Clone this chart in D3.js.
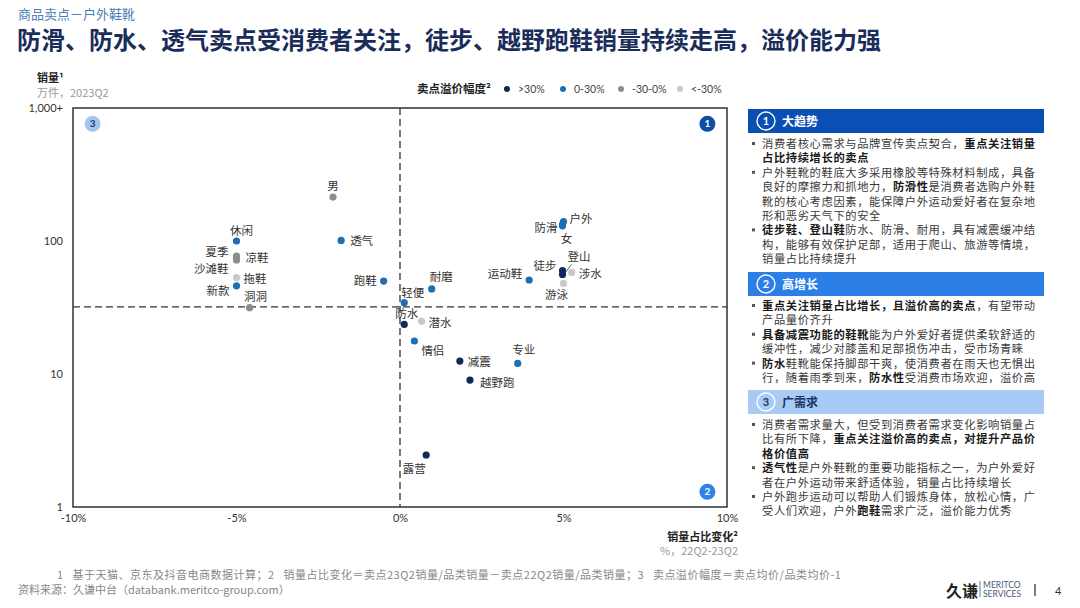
<!DOCTYPE html>
<html>
<head>
<meta charset="utf-8">
<script src="https://cdn.jsdelivr.net/npm/d3@7"></script>
<style>
  body { margin:0; background:#fff; }
  svg { font-family: "Noto Sans CJK SC", "Noto Sans", sans-serif; }
</style>
</head>
<body>
<div id="chart"></div>
<script>
// selling points of outdoor footwear
var names = ["男","休闲","夏季","凉鞋","沙滩鞋","拖鞋","新款","洞洞","透气","跑鞋","轻便","防水","耐磨","潜水","情侣","减震","越野跑","专业","运动鞋","露营","户外","防滑","女","徒步","登山","涉水","游泳"];
// share change 22Q2-23Q2, %
var shareChange = [-2.05,-5.0,-5.0,-5.0,-5.0,-5.0,-5.0,-4.6,-1.8,-0.5,0.13,0.13,0.97,0.66,0.44,1.83,2.14,3.6,3.95,0.8,5.0,4.97,4.97,4.97,4.97,5.25,5.0];
// sales volume, 10k units, 2023Q2
var sales = [214,100,77,74,72,53,46,31.5,101,50,34.4,23.6,43.6,24.9,17.7,12.5,9.0,12.0,50.9,2.46,140,133,130,60,56,58,48];
// premium group index into legend
var premium = [2,1,2,2,2,3,1,2,1,1,1,0,1,3,1,0,0,1,1,0,1,1,1,0,0,3,3];

var legendLabels = [">30%","0-30%","-30-0%","<-30%"];
var legendColors = ["#0c2a5c","#1f6db3","#8c8c8c","#c9c9c9"];

var xTicks = [-10,-5,0,5,10];
var xTickLabels = ["-10%","-5%","0%","5%","10%"];
var yTicks = [1,10,100,1000];
var yTickLabels = ["1","10","100","1,000+"];
var hLineValue = 32;

// label offsets (dx, dy, anchor) relative to the dot
var labelPos = {
  "男":[0,-11,"middle"], "休闲":[5,-10,"middle"], "夏季":[-8,-4,"end"], "凉鞋":[9,0,"start"],
  "沙滩鞋":[-8,9,"end"], "拖鞋":[7,1,"start"], "新款":[-7,5,"end"], "洞洞":[6,-11,"middle"],
  "透气":[9,1,"start"], "跑鞋":[-7,0,"end"], "轻便":[-3,-10,"start"], "防水":[-9,-10,"start"],
  "耐磨":[-2,-12,"start"], "潜水":[7,2,"start"], "情侣":[7,10,"start"], "减震":[8,1,"start"],
  "越野跑":[10,3,"start"], "专业":[6,-13,"middle"], "运动鞋":[-7,-6,"end"], "露营":[-12,14,"middle"],
  "户外":[6,-3,"start"], "防滑":[-5,3,"end"], "女":[4,13,"middle"], "徒步":[-6,-5,"end"],
  "登山":[5,-17,"start"], "涉水":[7,2,"start"], "游泳":[-7,12,"middle"]
};

var panel = [
  {num:"1", title:"大趋势", fill:"#0b4fb4", circleText:"#fff", titleColor:"#fff", top:109, lineTop:144,
   lines:[
    [true, [["消费者核心需求与品牌宣传卖点契合，",0],["重点关注销量",1]]],
    [false,[["占比持续增长的卖点",1]]],
    [true, [["户外鞋靴的鞋底大多采用橡胶等特殊材料制成，具备",0]]],
    [false,[["良好的摩擦力和抓地力，",0],["防滑性",1],["是消费者选购户外鞋",0]]],
    [false,[["靴的核心考虑因素，能保障户外运动爱好者在复杂地",0]]],
    [false,[["形和恶劣天气下的安全",0]]],
    [true, [["徒步鞋、登山鞋",1],["防水、防滑、耐用，具有减震缓冲结",0]]],
    [false,[["构，能够有效保护足部，适用于爬山、旅游等情境，",0]]],
    [false,[["销量占比持续提升",0]]]
   ]},
  {num:"2", title:"高增长", fill:"#2c7fe6", circleText:"#fff", titleColor:"#fff", top:272, lineTop:306,
   lines:[
    [true, [["重点关注销量占比增长，且溢价高的卖点",1],["，有望带动",0]]],
    [false,[["产品量价齐升",0]]],
    [true, [["具备减震功能的鞋靴",1],["能为户外爱好者提供柔软舒适的",0]]],
    [false,[["缓冲性，减少对膝盖和足部损伤冲击，受市场青睐",0]]],
    [true, [["防水",1],["鞋靴能保持脚部干爽，使消费者在雨天也无惧出",0]]],
    [false,[["行，随着雨季到来，",0],["防水性",1],["受消费市场欢迎，溢价高",0]]]
   ]},
  {num:"3", title:"广需求", fill:"#a7cbf4", circleText:"#1b3566", titleColor:"#1b3566", top:390, lineTop:425,
   lines:[
    [true, [["消费者需求量大，但受到消费者需求变化影响销量占",0]]],
    [false,[["比有所下降，",0],["重点关注溢价高的卖点，对提升产品价",1]]],
    [false,[["格价值高",1]]],
    [true, [["透气性",1],["是户外鞋靴的重要功能指标之一，为户外爱好",0]]],
    [false,[["者在户外运动带来舒适体验，销量占比持续增长",0]]],
    [true, [["户外跑步运动可以帮助人们锻炼身体，放松心情，广",0]]],
    [false,[["受人们欢迎，户外",0],["跑鞋",1],["需求广泛，溢价能力优秀",0]]]
   ]}
];

var W = 1080, H = 608;
var plot = {left:73, right:727, top:108, bottom:507};

var svg = d3.select("#chart").append("svg")
            .attr("width", W)
            .attr("height", H);

// header
svg.append("text").attr("x",18).attr("y",19).attr("font-size",13).attr("fill","#4d7db8")
   .text("商品卖点－户外鞋靴");
svg.append("text").attr("x",17).attr("y",49).attr("font-size",24).attr("font-weight",700)
   .attr("fill","#1a2d5a").text("防滑、防水、透气卖点受消费者关注，徒步、越野跑鞋销量持续走高，溢价能力强");

// scales
var x = d3.scaleLinear().domain([-10,10]).range([plot.left, plot.right]);
var y = d3.scaleLog().domain([1,1000]).range([plot.bottom, plot.top]);

// axis titles
svg.append("text").attr("x",37).attr("y",82).attr("font-size",11).attr("font-weight",700)
   .attr("fill","#222").text("销量¹");
svg.append("text").attr("x",37).attr("y",97).attr("font-size",11).attr("fill","#9a9a9a")
   .text("万件，2023Q2");
svg.append("text").attr("x",738).attr("y",541).attr("font-size",11).attr("font-weight",700)
   .attr("text-anchor","end").attr("fill","#222").text("销量占比变化²");
svg.append("text").attr("x",738).attr("y",555).attr("font-size",11).attr("fill","#9a9a9a")
   .attr("text-anchor","end").text("%，22Q2-23Q2");

// legend
svg.append("text").attr("x",417).attr("y",93).attr("font-size",11.5).attr("font-weight",700)
   .attr("fill","#222").text("卖点溢价幅度²");
var legX = [507,563,621,680];
var leg = svg.append("g").selectAll("g").data(legendLabels).enter().append("g")
   .attr("transform", function(d,i){ return "translate("+legX[i]+",89)"; });
leg.append("circle").attr("r",3).attr("fill",function(d,i){ return legendColors[i]; });
leg.append("text").attr("x",11).attr("y",4).attr("font-size",10.5)
   .attr("font-family","Lato, 'Liberation Sans', sans-serif").attr("fill","#444").text(function(d){ return d; });

// axes
var xAxis = svg.append("g").attr("transform","translate(0,"+(plot.bottom+4)+")")
   .call(d3.axisBottom(x).tickValues(xTicks).tickSize(0).tickFormat(function(d,i){ return xTickLabels[i]; }));
xAxis.select(".domain").remove();
xAxis.selectAll("text").attr("font-size",11).attr("font-family","Lato, 'Liberation Sans', sans-serif").attr("fill","#333");

var yAxis = svg.append("g").attr("transform","translate("+(plot.left-7)+",0)")
   .call(d3.axisLeft(y).tickValues(yTicks).tickSize(0).tickFormat(function(d,i){ return yTickLabels[i]; }));
yAxis.select(".domain").remove();
yAxis.selectAll("text").attr("font-size",11).attr("font-family","Lato, 'Liberation Sans', sans-serif").attr("fill","#333");

// frame
svg.append("rect").attr("x",plot.left).attr("y",plot.top)
   .attr("width",plot.right-plot.left).attr("height",plot.bottom-plot.top)
   .attr("fill","none").attr("stroke","#222").attr("stroke-width",1.4);

// quadrant dividers
svg.append("line").attr("x1",x(0)).attr("x2",x(0)).attr("y1",plot.top).attr("y2",plot.bottom)
   .attr("stroke","#333").attr("stroke-width",1.3).attr("stroke-dasharray","7,4");
svg.append("line").attr("x1",plot.left).attr("x2",plot.right).attr("y1",y(hLineValue)).attr("y2",y(hLineValue))
   .attr("stroke","#333").attr("stroke-width",1.3).attr("stroke-dasharray","7,4");

// quadrant badges
var badges = [["3",x(-9.4),y(760),"#a3c6f0","#1b3566"],["1",x(9.4),y(760),"#0d4ea6","#fff"],["2",x(9.4),y(1.3),"#2d83e6","#fff"]];
badges.forEach(function(b){
  svg.append("circle").attr("cx",b[1]).attr("cy",b[2]).attr("r",8).attr("fill",b[3]);
  svg.append("text").attr("x",b[1]).attr("y",b[2]+3.5).attr("text-anchor","middle").attr("font-size",10)
     .attr("font-weight",700).attr("font-family","Lato, sans-serif").attr("fill",b[4]).text(b[0]);
});

// points
var pts = names.map(function(n,i){ return {name:n, dx:shareChange[i], v:sales[i], g:premium[i]}; });

// leader line for 登山
var ds = pts.filter(function(p){ return p.name=="登山"; })[0];
svg.append("line").attr("x1",x(ds.dx)+2).attr("y1",y(ds.v)-1).attr("x2",x(ds.dx)+9).attr("y2",y(ds.v)-10)
   .attr("stroke","#333").attr("stroke-width",0.8);

svg.append("g").selectAll("circle").data(pts).enter().append("circle")
   .attr("cx",function(d){ return x(d.dx); })
   .attr("cy",function(d){ return y(d.v); })
   .attr("r",3.6)
   .attr("fill",function(d){ return legendColors[d.g]; });

svg.append("g").selectAll("text").data(pts).enter().append("text")
   .attr("x",function(d){ return x(d.dx)+labelPos[d.name][0]; })
   .attr("y",function(d){ return y(d.v)+labelPos[d.name][1]+4; })
   .attr("text-anchor",function(d){ return labelPos[d.name][2]; })
   .attr("font-size",11.5).attr("fill","#333")
   .text(function(d){ return d.name; });

// right side panel
var px = 748, pw = 296, lh = 14.4;
panel.forEach(function(s){
  svg.append("rect").attr("x",px).attr("y",s.top).attr("width",pw).attr("height",24).attr("fill",s.fill);
  svg.append("circle").attr("cx",px+18).attr("cy",s.top+12).attr("r",9)
     .attr("fill","none").attr("stroke","#fff").attr("stroke-width",1.4);
  svg.append("text").attr("x",px+18).attr("y",s.top+16).attr("text-anchor","middle").attr("font-size",11)
     .attr("font-weight",700).attr("font-family","Lato, sans-serif").attr("fill",s.circleText).text(s.num);
  svg.append("text").attr("x",px+34).attr("y",s.top+16.5).attr("font-size",12).attr("font-weight",700)
     .attr("fill",s.titleColor).text(s.title);

  s.lines.forEach(function(ln,i){
    var cy = s.lineTop + i*lh;
    if (ln[0]) {
      svg.append("rect").attr("x",px+4).attr("y",cy-2).attr("width",3).attr("height",3).attr("fill","#555");
    }
    var t = svg.append("text").attr("x",px+14).attr("y",cy+4).attr("font-size",11.3)
       .attr("letter-spacing",0.6).attr("fill","#333");
    ln[1].forEach(function(seg){
      t.append("tspan").attr("font-weight",seg[1]?700:400).attr("fill",seg[1]?"#1a1a1a":"#3a3a3a").text(seg[0]);
    });
  });
});

// footnotes
svg.append("text").attr("x",57).attr("y",579).attr("font-size",11).attr("letter-spacing",0.5).attr("fill","#888")
   .attr("xml:space","preserve")
   .text("1   基于天猫、京东及抖音电商数据计算；2   销量占比变化＝卖点23Q2销量/品类销量－卖点22Q2销量/品类销量；3   卖点溢价幅度＝卖点均价/品类均价-1");
svg.append("text").attr("x",18).attr("y",594).attr("font-size",11).attr("fill","#888")
   .text("资料来源：久谦中台（databank.meritco-group.com）");

// logo and page number
svg.append("text").attr("x",946).attr("y",597).attr("font-size",16).attr("font-weight",700).attr("fill","#222").text("久谦");
svg.append("line").attr("x1",980).attr("x2",980).attr("y1",581).attr("y2",597).attr("stroke","#777").attr("stroke-width",1);
svg.append("text").attr("x",983).attr("y",588).attr("font-size",8.5).attr("font-family","Lato, sans-serif").attr("fill","#4a5a78").text("MERITCO");
svg.append("text").attr("x",983).attr("y",597).attr("font-size",8.5).attr("font-family","Lato, sans-serif").attr("fill","#4a5a78").text("SERVICES");
svg.append("line").attr("x1",1035).attr("x2",1035).attr("y1",584).attr("y2",596).attr("stroke","#333").attr("stroke-width",1.3);
svg.append("text").attr("x",1055).attr("y",595).attr("font-size",11).attr("font-family","Lato, sans-serif").attr("fill","#333").text("4");
</script>
</body>
</html>
